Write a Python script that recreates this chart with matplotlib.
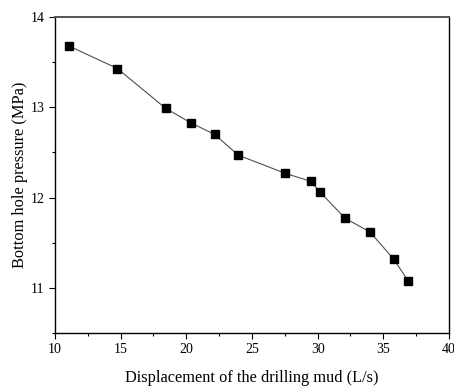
import matplotlib
matplotlib.use('Agg')
import matplotlib.pyplot as plt
from matplotlib.ticker import MultipleLocator

# Flow rate of the drilling mud vs. bottom hole pressure
displacement = [11.07, 14.76, 18.42, 20.33, 22.16, 23.96, 27.52, 29.48, 30.19, 32.10, 33.98, 35.78, 36.88]
pressure = [13.68, 13.43, 12.99, 12.83, 12.70, 12.47, 12.27, 12.18, 12.06, 11.77, 11.62, 11.32, 11.08]

plt.rcParams['font.family'] = ['Liberation Serif', 'DejaVu Serif']

fig = plt.figure(figsize=(4.54, 3.89), dpi=100)
ax = fig.add_axes([0.121, 0.144, 0.868, 0.812])

ax.plot(displacement, pressure, color='#505050', linewidth=0.8,
        marker='s', markersize=5.5, markerfacecolor='black', markeredgecolor='black')

ax.set_xlim(10, 40)
ax.set_ylim(10.5, 14)
ax.xaxis.set_major_locator(MultipleLocator(5))
ax.xaxis.set_minor_locator(MultipleLocator(2.5))
ax.yaxis.set_major_locator(MultipleLocator(1))
ax.yaxis.set_minor_locator(MultipleLocator(0.5))

ax.tick_params(which='both', direction='out', top=False, right=False, labelsize=10)
ax.tick_params(which='major', length=4, width=0.8)
ax.tick_params(which='minor', length=2.5, width=0.8)

for side in ax.spines.values():
    side.set_linewidth(1.0)
ax.spines['top'].set_color('#555555')
ax.spines['top'].set_linewidth(1.4)

ax.set_xlabel('Displacement of the drilling mud (L/s)', fontsize=11.8, labelpad=10)
ax.set_ylabel('Bottom hole pressure (MPa)', fontsize=11.8, labelpad=2)

fig.savefig('out.png', dpi=100)
